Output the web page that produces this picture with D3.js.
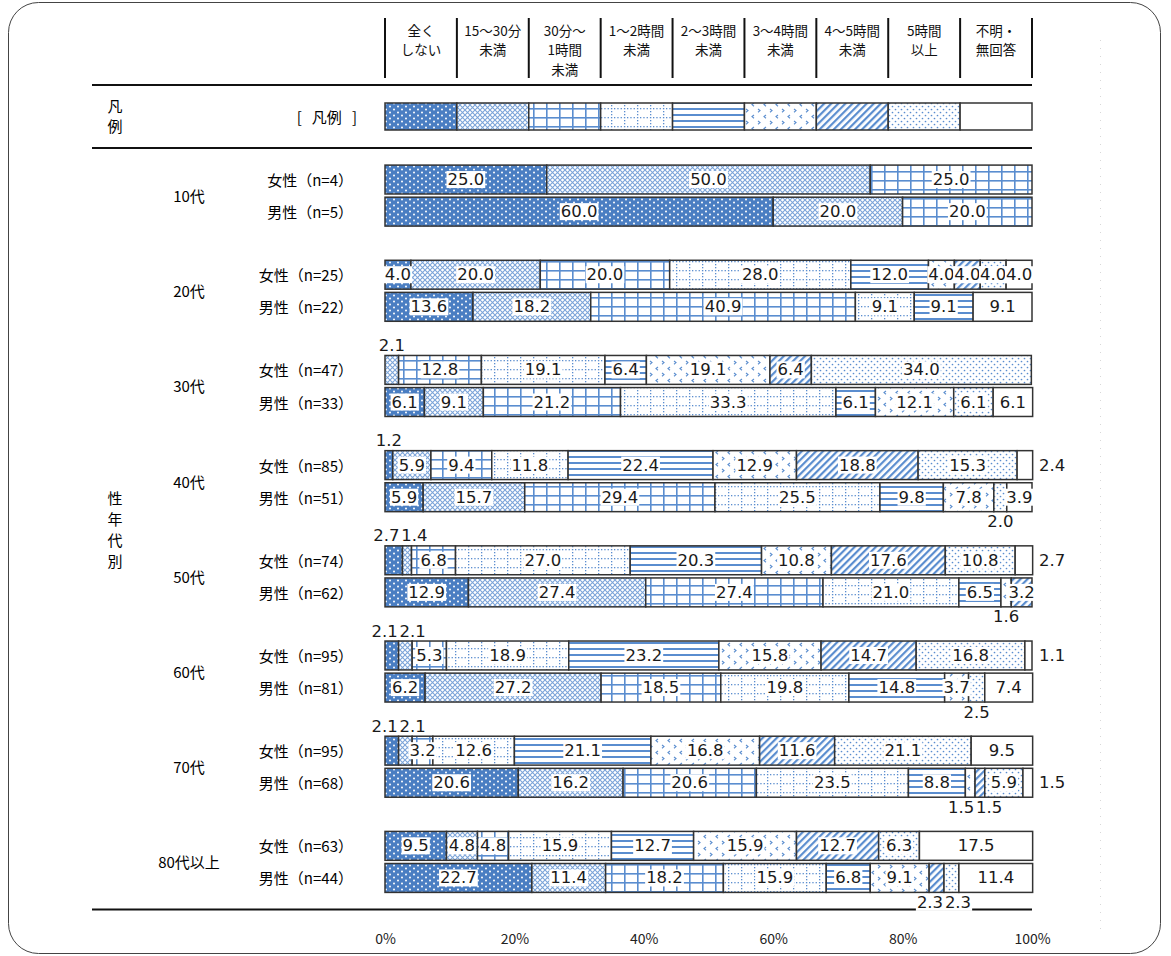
<!DOCTYPE html>
<html><head><meta charset="utf-8">
<script src="https://cdn.jsdelivr.net/npm/d3@7"></script>
<style>
body{margin:0;background:#fff;}
svg{display:block;font-family:"Noto Sans CJK JP","Noto Sans",sans-serif;}
</style></head><body>
<svg id="chart" width="1171" height="956"></svg>
<script>
// Answer categories (column headings, one array entry per line)
const categories = [
  ["全く","しない"],["15～30分","未満"],["30分～","1時間","未満"],["1～2時間","未満"],
  ["2～3時間","未満"],["3～4時間","未満"],["4～5時間","未満"],["5時間","以上"],["不明・","無回答"]
];
const ageGroups = ["10代","20代","30代","40代","50代","60代","70代","80代以上"];
const sexes = ["女性","男性"];
const womenN = [4,25,47,85,74,95,95,63];
const menN = [5,22,33,51,62,81,68,44];
// Shares (%) per age group, in category order
const womenShares = [
  [25.0,50.0,25.0,0,0,0,0,0,0],
  [4.0,20.0,20.0,28.0,12.0,4.0,4.0,4.0,4.0],
  [0,2.1,12.8,19.1,6.4,19.1,6.4,34.0,0],
  [1.2,5.9,9.4,11.8,22.4,12.9,18.8,15.3,2.4],
  [2.7,1.4,6.8,27.0,20.3,10.8,17.6,10.8,2.7],
  [2.1,2.1,5.3,18.9,23.2,15.8,14.7,16.8,1.1],
  [2.1,2.1,3.2,12.6,21.1,16.8,11.6,21.1,9.5],
  [9.5,4.8,4.8,15.9,12.7,15.9,12.7,6.3,17.5]
];
const menShares = [
  [60.0,20.0,20.0,0,0,0,0,0,0],
  [13.6,18.2,40.9,9.1,9.1,0,0,0,9.1],
  [6.1,9.1,21.2,33.3,6.1,12.1,0,6.1,6.1],
  [5.9,15.7,29.4,25.5,9.8,7.8,0,2.0,3.9],
  [12.9,27.4,27.4,21.0,6.5,1.6,3.2,0,0],
  [6.2,27.2,18.5,19.8,14.8,3.7,0,2.5,7.4],
  [20.6,16.2,20.6,23.5,8.8,1.5,1.5,5.9,1.5],
  [22.7,11.4,18.2,15.9,6.8,9.1,2.3,2.3,11.4]
];
const xTicks = [0,20,40,60,80,100];

const BLUE = "#4a7ec2";
const LINE = "#5a8dcf";
const svg = d3.select("#chart");

// frame
svg.append("rect").attr("x",8.5).attr("y",2.5).attr("width",1152).attr("height",951)
  .attr("rx",30).attr("fill","none").attr("stroke","#444").attr("stroke-width",1);
svg.append("line").attr("x1",1100.5).attr("x2",1100.5).attr("y1",40).attr("y2",930)
  .attr("stroke","#d8d8d8").attr("stroke-dasharray","1,7");

// ---------- fill patterns ----------
const defs = svg.append("defs");
function pat(id,w,h,extra){
  const p = defs.append("pattern").attr("id",id).attr("patternUnits","userSpaceOnUse")
    .attr("width",w).attr("height",h);
  if (extra) p.attr("patternTransform",extra);
  p.append("rect").attr("width",w).attr("height",h).attr("fill","#fff");
  return p;
}
// 0: solid blue with white dots
{ const p = pat("p0",8,6); p.select("rect").attr("fill",BLUE);
  p.append("circle").attr("cx",2).attr("cy",1.5).attr("r",1).attr("fill","#fff");
  p.append("circle").attr("cx",6).attr("cy",4.5).attr("r",1).attr("fill","#fff"); }
// 1: fine crosshatch
{ const p = pat("p1",5,5);
  p.append("path").attr("d","M0,0L5,5M5,0L0,5").attr("stroke",LINE).attr("stroke-width",1.1).attr("opacity",0.8); }
// 2: grid
{ const p = pat("p2",13,9);
  p.append("rect").attr("x",0).attr("y",0).attr("width",1.6).attr("height",9).attr("fill",LINE);
  p.append("rect").attr("x",0).attr("y",0).attr("width",13).attr("height",1.6).attr("fill",LINE); }
// 3: dotted grid
{ const p = pat("p3",13,9);
  for (let y=0;y<9;y+=3) p.append("rect").attr("x",0).attr("y",y).attr("width",1.3).attr("height",1.3).attr("fill",LINE);
  for (let x=3;x<13;x+=3.3) p.append("rect").attr("x",x).attr("y",0).attr("width",1.3).attr("height",1.3).attr("fill",LINE); }
// 4: horizontal lines
{ const p = pat("p4",8,6);
  p.append("rect").attr("x",0).attr("y",0).attr("width",8).attr("height",2).attr("fill",LINE); }
// 5: scattered chevrons
{ const p = pat("p5",12,12);
  p.append("path").attr("d","M2,1l2,1.6l-2,1.6M10,7l-2,1.6l2,1.6")
    .attr("fill","none").attr("stroke",LINE).attr("stroke-width",1.1); }
// 6: diagonal stripes
{ const p = pat("p6",5,5,"rotate(45)");
  p.append("rect").attr("x",0).attr("y",0).attr("width",2.2).attr("height",5).attr("fill",LINE); }
// 7: sparse dots
{ const p = pat("p7",6,6);
  p.append("circle").attr("cx",1.5).attr("cy",1.5).attr("r",0.85).attr("fill",LINE);
  p.append("circle").attr("cx",4.5).attr("cy",4.5).attr("r",0.85).attr("fill",LINE); }
const fills = categories.map((c,i)=> i===8 ? "#fff" : `url(#p${i})`);

// ---------- scales ----------
const x = d3.scaleLinear().domain([0,100]).range([385,1032]);
const head = d3.scaleBand().domain(d3.range(categories.length)).range([385,1032]);
const yGroup = d3.scaleBand().domain(ageGroups).range([148,909.5]);
const ySex = d3.scaleBand().domain(sexes).range([-30.5,30.5]).paddingInner(0.1);

// ---------- header ----------
const hg = svg.append("g").attr("font-size",13.5).attr("fill","#111");
head.domain().forEach(i=>{
  hg.append("line").attr("x1",head(i)).attr("x2",head(i)).attr("y1",18).attr("y2",78)
    .attr("stroke","#111").attr("stroke-width",2);
  categories[i].forEach((t,j)=>{
    hg.append("text").attr("x",head(i)+head.bandwidth()/2).attr("y",29.5+j*19.5)
      .attr("text-anchor","middle").attr("dominant-baseline","central").text(t);
  });
});
hg.append("line").attr("x1",1032).attr("x2",1032).attr("y1",18).attr("y2",78)
  .attr("stroke","#111").attr("stroke-width",2);

// separators
[85, yGroup.range()[0], yGroup.range()[1]].forEach(yy=>{
  svg.append("line").attr("x1",92).attr("x2",1032).attr("y1",yy).attr("y2",yy)
    .attr("stroke","#111").attr("stroke-width",2);
});

// ---------- legend row ----------
const lg = svg.append("g");
head.domain().forEach(i=>{
  lg.append("rect").attr("x",head(i)).attr("y",103).attr("width",head.bandwidth()).attr("height",27)
    .attr("fill",fills[i]).attr("stroke","#333").attr("stroke-width",1.5);
});
svg.append("text").attr("x",115).attr("y",105).attr("text-anchor","middle").attr("dominant-baseline","central")
  .attr("font-size",15).text("凡");
svg.append("text").attr("x",115).attr("y",125).attr("text-anchor","middle").attr("dominant-baseline","central")
  .attr("font-size",15).text("例");
svg.append("text").attr("x",357).attr("y",116.5).attr("text-anchor","end").attr("dominant-baseline","central")
  .attr("font-size",15).attr("xml:space","preserve").text("[   凡例   ]");

// vertical side label
["性","年","代","別"].forEach((c,i)=>{
  const mid = (yGroup.range()[0]+yGroup.range()[1])/2;
  svg.append("text").attr("x",115).attr("y",mid+(i-1.5)*21).attr("text-anchor","middle")
    .attr("dominant-baseline","central").attr("font-size",15).text(c);
});

// ---------- bars ----------
const rows = [];
ageGroups.forEach((age,i)=>{
  sexes.forEach((sex,s)=>{
    const vals = s===0 ? womenShares[i] : menShares[i];
    const n = s===0 ? womenN[i] : menN[i];
    const cum = d3.cumsum(vals);
    const segs = vals.map((v,k)=>({k,v,x0:cum[k]-v,x1:cum[k]})).filter(d=>d.v>0);
    const cy = yGroup(age)+yGroup.bandwidth()/2;
    rows.push({age,sex,n,segs,top:cy+ySex(sex),h:ySex.bandwidth()});
  });
});

ageGroups.forEach(age=>{
  svg.append("text").attr("x",189).attr("y",yGroup(age)+yGroup.bandwidth()/2)
    .attr("text-anchor","middle").attr("dominant-baseline","central").attr("font-size",15).text(age);
});

const fmt = d3.format(".1f");
const labelLayer = [];
rows.forEach(r=>{
  const g = svg.append("g");
  g.append("text").attr("x",353).attr("y",r.top+r.h/2).attr("text-anchor","end")
    .attr("dominant-baseline","central").attr("font-size",15).text(`${r.sex}（n=${r.n}）`);
  g.selectAll("rect").data(r.segs).join("rect")
    .attr("x",d=>x(d.x0)).attr("y",r.top).attr("width",d=>x(d.x1)-x(d.x0)).attr("height",r.h)
    .attr("fill",d=>fills[d.k]).attr("stroke","#333").attr("stroke-width",1.5);
  const last = r.segs[r.segs.length-1];
  const outside = {above:[],below:[]};
  r.segs.forEach(d=>{
    const cx = x((d.x0+d.x1)/2);
    if (d.v >= 3) {
      labelLayer.push({x:cx,y:r.top+r.h/2,v:d.v,anchor:"middle",bg:true});
    } else if (d===last && d.x1>99.5) {
      labelLayer.push({x:x(100)+7,y:r.top+r.h/2,v:d.v,anchor:"start",bg:false});
    } else if (cx < 430) {
      outside.above.push({x:cx,y:r.top-10,v:d.v,anchor:"middle",bg:false});
    } else {
      outside.below.push({x:cx,y:r.top+r.h+10,v:d.v,anchor:"middle",bg:true});
    }
  });
  // keep neighbouring outside labels from colliding
  Object.values(outside).forEach(list=>{
    const sep = 28;
    for (let it=0; it<20; it++){
      for (let j=1;j<list.length;j++){
        const gap = list[j].x - list[j-1].x;
        if (gap < sep){ const m=(sep-gap)/2; list[j-1].x-=m; list[j].x+=m; }
      }
    }
    list.forEach(l=>labelLayer.push(l));
  });
});

const lab = svg.append("g").attr("font-family","'DejaVu Sans',sans-serif").attr("font-size",16.5).attr("fill","#1a1a1a");
labelLayer.forEach(l=>{
  const g = lab.append("g");
  const t = g.append("text").attr("x",l.x).attr("y",l.y).attr("text-anchor",l.anchor)
    .attr("dominant-baseline","central").text(fmt(l.v));
  if (l.bg){
    const b = t.node().getBBox();
    g.insert("rect","text").attr("x",b.x-1).attr("y",b.y+1).attr("width",b.width+2).attr("height",b.height-2).attr("fill","#fff");
  }
});

// ---------- x axis ----------
const ax = svg.append("g").attr("transform","translate(0,931)")
  .call(d3.axisBottom(x).tickValues(xTicks).tickSize(0).tickFormat(d=>d+"%"));
ax.select(".domain").remove();
ax.selectAll("text").attr("font-size",14).attr("fill","#222")
  .attr("font-family","'Noto Sans CJK JP',sans-serif");
</script>
</body></html>
